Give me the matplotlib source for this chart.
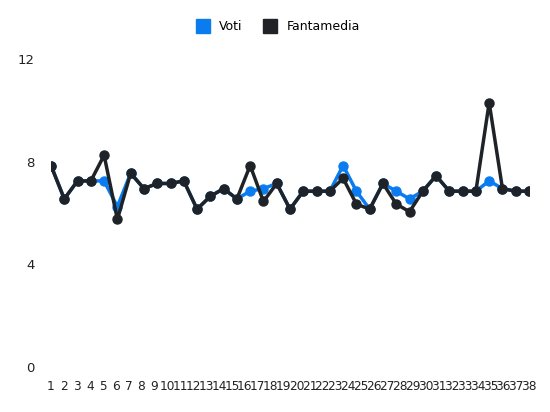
import matplotlib
matplotlib.use("Agg")
import matplotlib.pyplot as plt
import numpy as np
from matplotlib.lines import Line2D

labels = [str(i) for i in range(1, 39)]
fantamedia = [7.85, 6.55, 7.25, 7.25, 8.25, 5.75, 7.55, 6.95, 7.15, 7.15, 7.25, 6.15, 6.65, 6.95, 6.55,
              7.85, 6.45, 7.15, 6.15, 6.85, 6.85, 6.85, 7.35, 6.35, 6.15, 7.15, 6.35, 6.05, 6.85, 7.45,
              6.85, 6.85, 6.85, 10.3, 6.95, 6.85, 6.85]
voti = [7.85, 6.55, 7.25, 7.25, 7.25, 6.25, 7.55, 6.95, 7.15, 7.15, 7.25, 6.15, 6.65, 6.95, 6.55,
        6.85, 6.95, 7.15, 6.15, 6.85, 6.85, 6.85, 7.85, 6.85, 6.15, 7.15, 6.85, 6.55, 6.85, 7.45,
        6.85, 6.85, 6.85, 7.25, 6.95, 6.85, 6.85]
yticks = [0, 4, 8, 12]

blue = "#0a7cf0"
dark = "#1f2328"

fig = plt.figure(figsize=(5.5, 4.12), dpi=100)
ax = fig.add_axes([51/550, 1-367/412, 478/550, 308/412])
x = np.arange(len(fantamedia))
ax.plot(x, voti, color=blue, lw=2.5, marker="o", ms=6.5, zorder=2)
ax.plot(x, fantamedia, color=dark, lw=2.5, marker="o", ms=6.5, zorder=3)
ax.set_xlim(0, len(fantamedia) - 1)
ax.set_ylim(0, 12)
ax.set_yticks(yticks)
ax.set_yticklabels([str(v) for v in yticks], fontsize=9.5)
ax.set_xticks(np.linspace(0, len(fantamedia) - 1, len(labels)))
ax.set_xticklabels(labels, fontsize=8.7)
for s in ax.spines.values():
    s.set_visible(False)
ax.tick_params(length=0, colors="#222222")
ax.tick_params(axis="x", pad=9)
ax.tick_params(axis="y", pad=12)
handles = [Line2D([], [], ls="", marker="s", ms=10, color=blue),
           Line2D([], [], ls="", marker="s", ms=10, color=dark)]
fig.legend(handles, ["Voti", "Fantamedia"], loc="center", bbox_to_anchor=(0.5, 1-27/412),
           ncol=2, frameon=False, fontsize=9, handletextpad=0.3, columnspacing=1.2)
fig.savefig("out.png", dpi=100)
